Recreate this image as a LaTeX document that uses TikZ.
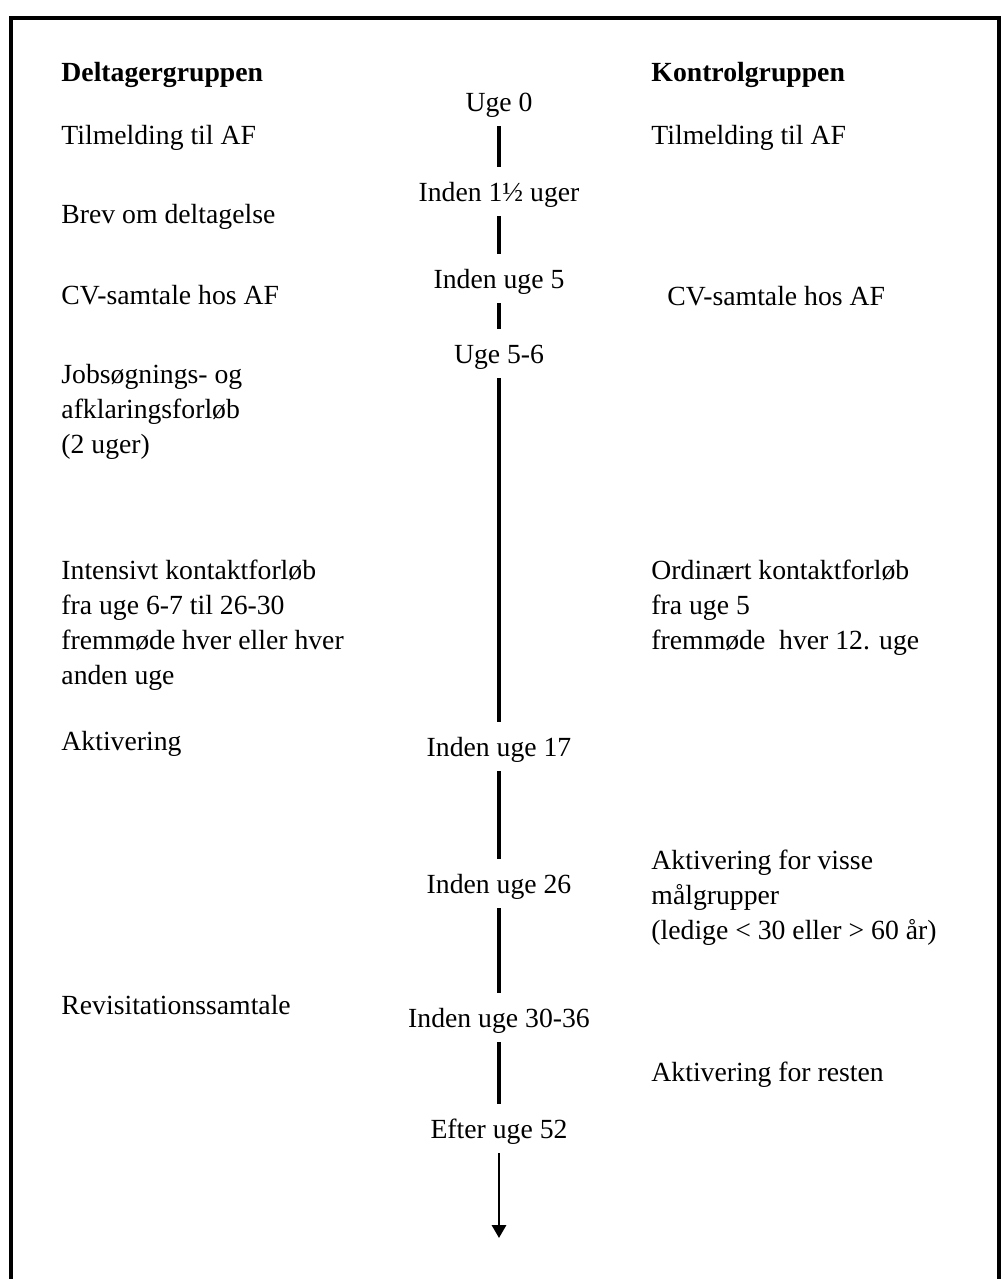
\documentclass[tikz,border=0pt]{standalone}
\usepackage{fontspec}
\setmainfont{Liberation Serif}
\usepackage{tikz}
\usetikzlibrary{arrows.meta}
\tikzset{
  grouptxt/.style={anchor=base west, inner sep=0pt, align=left},
  weektxt/.style={anchor=base, inner xsep=0pt, inner ysep=0pt, text height=14.7pt, text depth=6.5pt},
  timeline/.style={line width=1.7pt},
}

\begin{document}
\begin{tikzpicture}[x=0.4332pt, y=-0.4332pt, every node/.style={font=\fontsize{12pt}{15.16pt}\selectfont}]
			%%%%% START %%%%%
			\useasboundingbox (0, 0) rectangle (1003, 1279);
			\draw[line width=1.5pt] (11, 1279) -- (11, 18) -- (999, 18) -- (999, 1279);
			
			% Deltagergruppen (multi-line nodes sit on their last line)
			\node[grouptxt] (dhead) at (61, 81) {\bfseries Deltagergruppen};
			\node[grouptxt] (dtilm) at (61, 144) {Tilmelding til AF};
			\node[grouptxt] (dbrev) at (61, 223) {Brev om deltagelse};
			\node[grouptxt] (dcv) at (61, 304) {CV-samtale hos AF};
			\node[grouptxt] (djob) at (61, 453) {Jobsøgnings- og\\afklaringsforløb\\(2 uger)};
			\node[grouptxt] (dint) at (61, 684) {Intensivt kontaktforløb\\fra uge 6-7 til 26-30\\fremmøde hver eller hver\\anden uge};
			\node[grouptxt] (dakt) at (61, 750) {Aktivering};
			\node[grouptxt] (drev) at (61, 1014) {Revisitationssamtale};
			
			% Kontrolgruppen
			\node[grouptxt] (khead) at (651, 81) {\bfseries Kontrolgruppen};
			\node[grouptxt] (ktilm) at (651, 144) {Tilmelding til AF};
			\node[grouptxt] (kcv) at (667, 305) {CV-samtale hos AF};
			\node[grouptxt] (kord) at (651, 649) {Ordinært kontaktforløb\\fra uge 5\\fremmøde~ hver 12. uge};
			\node[grouptxt] (kvis) at (651, 939) {Aktivering for visse\\målgrupper\\(ledige < 30 eller > 60 år)};
			\node[grouptxt] (kres) at (651, 1081) {Aktivering for resten};
			
			% tidslinje
			\node[weektxt] (w0) at (499, 111) {Uge 0};
			\node[weektxt] (w1) at (499, 201) {Inden 1½ uger};
			\node[weektxt] (w2) at (499, 288) {Inden uge 5};
			\node[weektxt] (w3) at (499, 363) {Uge 5-6};
			\node[weektxt] (w4) at (499, 756) {Inden uge 17};
			\node[weektxt] (w5) at (499, 893) {Inden uge 26};
			\node[weektxt] (w6) at (499, 1027) {Inden uge 30-36};
			\node[weektxt] (w7) at (499, 1138) {Efter uge 52};
			\coordinate (wend) at (499, 1238);
			
			\draw[timeline] (w0) -- (w1);
			\draw[timeline] (w1) -- (w2);
			\draw[timeline] (w2) -- (w3);
			\draw[timeline] (w3) -- (w4);
			\draw[timeline] (w4) -- (w5);
			\draw[timeline] (w5) -- (w6);
			\draw[timeline] (w6) -- (w7);
			\draw[line width=1.2pt, -{Triangle[length=5.6pt, width=6.1pt]}] (w7) -- (wend);
			
			%%%%% END %%%%%
\end{tikzpicture}
\end{document}
